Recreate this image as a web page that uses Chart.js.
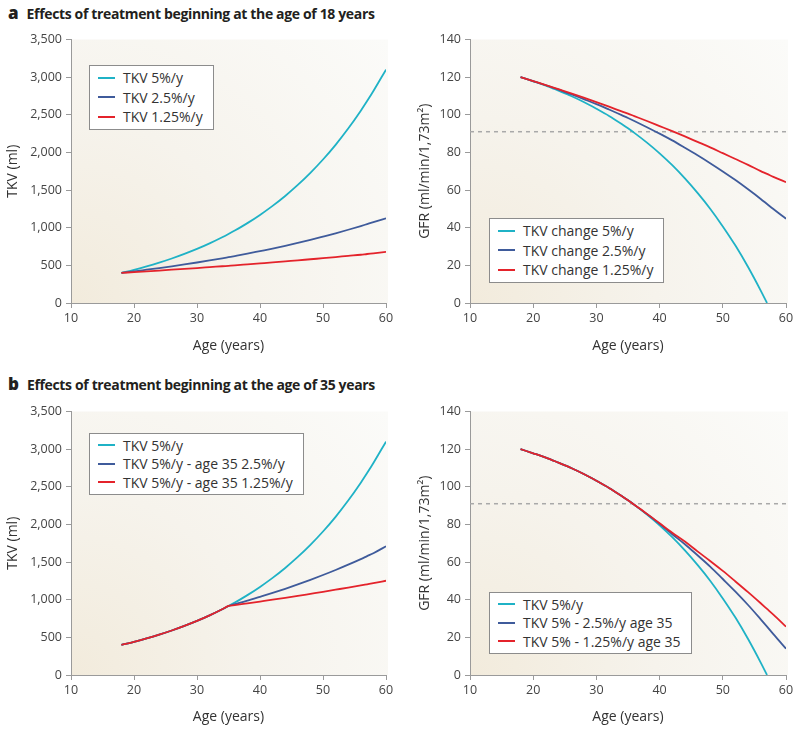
<!DOCTYPE html>
<html>
<head>
<meta charset="utf-8">
<script src="https://cdn.jsdelivr.net/npm/chart.js@4.4.0/dist/chart.umd.min.js"></script>
<style>
    body { margin: 0; width: 800px; height: 732px; background: #fff; position: relative; overflow: hidden; font-family: 'Open Sans', sans-serif; }
    canvas { position: absolute; }
    .titulo { position: absolute; left: 8px; font-weight: bold; font-size: 14px; letter-spacing: -0.35px; color: #231f20; white-space: nowrap; }
    .titulo b { font-size: 17px; margin-right: 8px; letter-spacing: 0; }
    .leyenda { position: absolute; border: 1px solid #8c8c8c; background: #fff; padding: 2px 10px 2px 8px; font-size: 14px; color: #333; white-space: nowrap; }
    .leyenda div { display: flex; align-items: center; }
    .leyenda .linea { display: inline-block; width: 17px; height: 2px; margin-right: 8px; }
</style>
</head>
<body>
<div class="titulo" style="top:1px"><b>a</b>Effects of treatment beginning at the age of 18 years</div>
<div class="titulo" style="top:372px"><b>b</b>Effects of treatment beginning at the age of 35 years</div>

<canvas id="tkvA" width="400" height="340" style="left:0;top:28px"></canvas>
<canvas id="gfrA" width="400" height="340" style="left:400px;top:28px"></canvas>
<canvas id="tkvB" width="400" height="332" style="left:0;top:400px"></canvas>
<canvas id="gfrB" width="400" height="332" style="left:400px;top:400px"></canvas>

<script>
// Datos
const edades = [18, 20, 22, 24, 26, 28, 30, 32, 34, 35, 36, 38, 40, 42, 44, 46, 48, 50, 52, 54, 56, 57, 58, 60]

// a) tratamiento desde los 18 años
const tkvA5 = [400, 441, 486, 536, 591, 652, 718, 792, 873, 917, 963, 1061, 1170, 1290, 1422, 1568, 1729, 1906, 2101, 2317, 2554, 2682, 2816, 3100]
const tkvA25 = [400, 420, 442, 464, 487, 512, 538, 565, 594, 609, 624, 655, 689, 723, 760, 799, 839, 882, 926, 973, 1022, 1048, 1074, 1125]
const tkvA125 = [400, 410, 420, 431, 442, 453, 464, 476, 488, 494, 500, 513, 526, 539, 553, 566, 581, 595, 610, 626, 641, 651, 660, 680]
const gfrA5 = [120, 117.8, 115.5, 112.8, 110.0, 106.8, 103.2, 99.4, 95.1, 92.8, 90.4, 85.2, 79.5, 73.2, 66.2, 58.5, 50.1, 40.7, 30.5, 19.1, 6.6, 0, null, null]
const gfrA25 = [120, 117.9, 115.7, 113.4, 110.9, 108.3, 105.7, 102.8, 99.8, 98.3, 96.7, 93.4, 90.0, 86.4, 82.5, 78.5, 74.3, 69.9, 65.3, 60.4, 55.3, 52.6, 49.9, 44.8]
const gfrA125 = [120, 117.9, 115.8, 113.6, 111.4, 109.1, 106.7, 104.3, 101.8, 100.6, 99.3, 96.7, 94.0, 91.3, 88.5, 85.6, 82.7, 79.6, 76.5, 73.4, 70.1, 68.6, 67.0, 64.2]

// b) tratamiento desde los 35 años
const tkvB5 = tkvA5
const tkvB25 = [400, 441, 486, 536, 591, 652, 718, 792, 873, 917, 940, 987, 1038, 1090, 1145, 1203, 1264, 1328, 1395, 1466, 1540, 1579, 1618, 1710]
const tkvB125 = [400, 441, 486, 536, 591, 652, 718, 792, 873, 917, 928, 952, 976, 1000, 1025, 1051, 1078, 1105, 1133, 1161, 1190, 1205, 1220, 1252]
const gfrB5 = gfrA5
const gfrB25 = [120, 117.8, 115.5, 112.8, 110.0, 106.8, 103.2, 99.4, 95.1, 92.8, 90.4, 85.5, 80.3, 74.8, 69.5, 63.6, 57.6, 51.0, 44.3, 37.2, 29.6, 25.7, 21.7, 14.0]
const gfrB125 = [120, 117.8, 115.5, 112.8, 110.0, 106.8, 103.2, 99.4, 95.1, 92.8, 90.4, 85.6, 80.6, 75.6, 70.9, 65.7, 60.6, 55.3, 49.7, 44.0, 38.1, 35.1, 32.1, 25.7]

// línea de referencia discontinua
const umbralEdades = [10, 60]
const umbralGfr = [91, 91]

const etiquetasTkvA = ['TKV 5%/y', 'TKV 2.5%/y', 'TKV 1.25%/y']
const etiquetasGfrA = ['TKV change 5%/y', 'TKV change 2.5%/y', 'TKV change 1.25%/y']
const etiquetasTkvB = ['TKV 5%/y', 'TKV 5%/y - age 35 2.5%/y', 'TKV 5%/y - age 35 1.25%/y']
const etiquetasGfrB = ['TKV 5%/y', 'TKV 5% - 2.5%/y age 35', 'TKV 5% - 1.25%/y age 35']

const colores = ['#1fb2c6', '#3f5b9b', '#e4232b']

const puntos = (xs, ys) => xs.map((x, i) => ({ x, y: ys[i] }))

// Fondo beige degradado del área del gráfico
const fondo = {
    id: 'fondo',
    beforeDraw(chart) {
        const { ctx, chartArea: a } = chart
        const g = ctx.createRadialGradient(a.left, a.bottom, 0, a.left, a.bottom, Math.hypot(a.width, a.height))
        g.addColorStop(0, '#f2ebdc')
        g.addColorStop(0.45, '#f6f3ec')
        g.addColorStop(1, '#fbfbf9')
        ctx.save()
        ctx.fillStyle = g
        ctx.fillRect(a.left, a.top, a.width + 2, a.height)
        ctx.restore()
    }
}

function crearGrafico(id, series, cfg) {
    const datasets = series.map((s, i) => ({
        data: puntos(edades, s),
        borderColor: colores[i],
        borderWidth: 1.8,
        pointRadius: 0,
        cubicInterpolationMode: 'monotone',
        order: 3 - i
    }))
    if (cfg.umbral) {
        datasets.push({
            data: puntos(umbralEdades, umbralGfr),
            borderColor: '#a9a9a9',
            borderWidth: 1.5,
            borderDash: [4, 4],
            pointRadius: 0,
            order: 5
        })
    }
    const ejeColor = '#9a9a9a'
    new Chart(document.getElementById(id), {
        type: 'line',
        data: { datasets },
        plugins: [fondo],
        options: {
            responsive: false,
            animation: false,
            layout: { padding: { top: 9, right: 14, left: 0, bottom: 0 } },
            plugins: { legend: { display: false }, tooltip: { enabled: false } },
            scales: {
                x: {
                    type: 'linear',
                    min: 10,
                    max: 60,
                    ticks: { stepSize: 10, color: '#444', padding: 3, font: { family: 'Open Sans', size: 12.5 } },
                    grid: { drawOnChartArea: false, tickLength: 5, color: ejeColor },
                    border: { color: ejeColor },
                    title: { display: true, text: 'Age (years)', color: '#333', font: { family: 'Open Sans', size: 14 }, padding: { bottom: cfg.xPad } },
                    afterFit: s => { s.height = cfg.xAlto }
                },
                y: {
                    min: 0,
                    max: cfg.yMax,
                    ticks: {
                        stepSize: cfg.yPaso,
                        color: '#444',
                        padding: 4,
                        font: { family: 'Open Sans', size: 12.5 },
                        callback: v => v.toLocaleString('en-US')
                    },
                    grid: { drawOnChartArea: false, tickLength: 5, color: ejeColor },
                    border: { color: ejeColor },
                    title: { display: true, text: cfg.yTitulo, color: '#333', font: { family: 'Open Sans', size: 14 }, padding: { top: cfg.yPad } },
                    afterFit: s => { s.width = cfg.yAncho }
                }
            }
        }
    })
}

function crearLeyenda(etiquetas, left, top, alto) {
    const caja = document.createElement('div')
    caja.className = 'leyenda'
    caja.style.left = left + 'px'
    caja.style.top = top + 'px'
    etiquetas.forEach((t, i) => {
        const fila = document.createElement('div')
        fila.style.height = alto + 'px'
        fila.innerHTML = `<span class="linea" style="background:${colores[i]}"></span>${t}`
        caja.appendChild(fila)
    })
    document.body.appendChild(caja)
}

crearGrafico('tkvA', [tkvA5, tkvA25, tkvA125], { yMax: 3500, yPaso: 500, yTitulo: 'TKV (ml)', yAncho: 71, yPad: 4.6, xAlto: 65, xPad: 14 })
crearGrafico('gfrA', [gfrA5, gfrA25, gfrA125], { yMax: 140, yPaso: 20, yTitulo: 'GFR (ml/min/1,73m²)', yAncho: 70, yPad: 17, xAlto: 65, xPad: 14, umbral: true })
crearGrafico('tkvB', [tkvB5, tkvB25, tkvB125], { yMax: 3500, yPaso: 500, yTitulo: 'TKV (ml)', yAncho: 71, yPad: 4.6, xAlto: 57, xPad: 7 })
crearGrafico('gfrB', [gfrB5, gfrB25, gfrB125], { yMax: 140, yPaso: 20, yTitulo: 'GFR (ml/min/1,73m²)', yAncho: 70, yPad: 17, xAlto: 57, xPad: 7, umbral: true })

crearLeyenda(etiquetasTkvA, 89, 65, 19.5)
crearLeyenda(etiquetasGfrA, 489, 218, 19.5)
crearLeyenda(etiquetasTkvB, 89, 433, 18.5)
crearLeyenda(etiquetasGfrB, 489, 592, 18.5)
</script>
</body>
</html>
